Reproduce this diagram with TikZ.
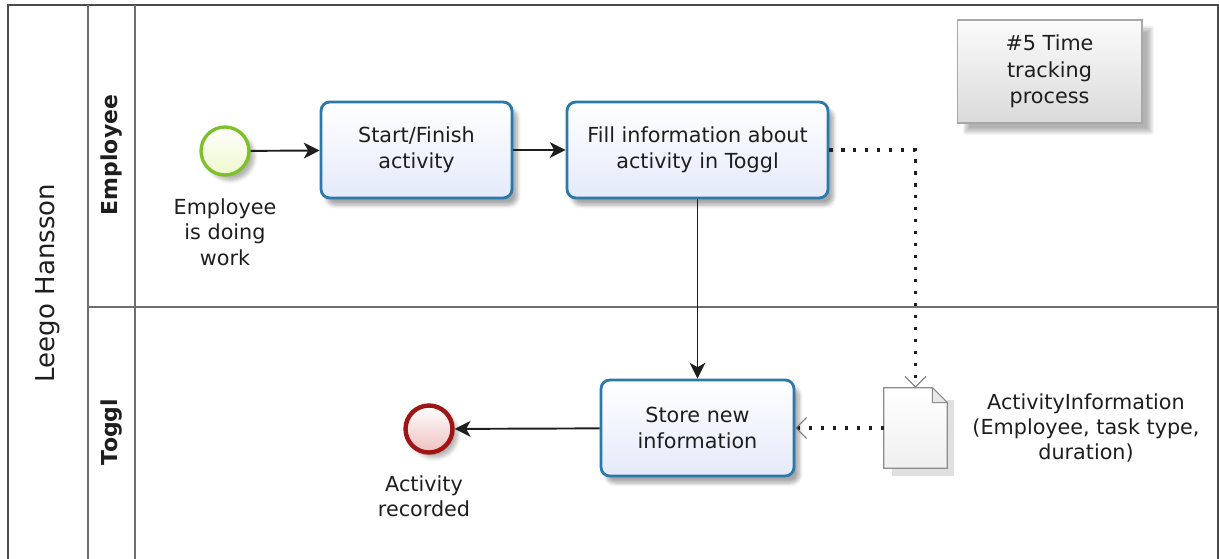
\documentclass[tikz,border=0pt]{standalone}
\usepackage{fontspec}
\setmainfont{DejaVu Sans}
\usetikzlibrary{calc,arrows.meta,shadows.blur}
\definecolor{ink}{HTML}{1E1E1E}
\definecolor{poolline}{HTML}{6E6E6E}
\definecolor{taskline}{HTML}{2C78A8}
\definecolor{taskfill}{HTML}{E4EAFA}
\definecolor{startline}{HTML}{7CC12A}
\definecolor{startfill}{HTML}{EEF8CC}
\definecolor{endline}{HTML}{A01414}
\definecolor{endfill}{HTML}{F0C0C0}
\definecolor{noteline}{HTML}{A8A8A8}
\definecolor{notefill}{HTML}{DADADA}
\definecolor{docline}{HTML}{8C8C8C}
\definecolor{barb}{HTML}{7A7A7A}
\newcommand{\txt}{\fontsize{11.8}{15}\selectfont}
\tikzset{
  pool/.style={draw=poolline, line width=0.8pt},
  poolouter/.style={draw=ink!80, line width=0.9pt},
  poollab/.style={rotate=90, text=ink, font=\fontsize{14.8}{17}\selectfont},
  lanelab/.style={rotate=90, text=ink, font=\fontsize{12.5}{15}\selectfont\bfseries},
  task/.style={draw=taskline, line width=1.6pt, rounded corners=5pt, minimum height=1.92cm,
    top color=white, bottom color=taskfill, text=ink, align=center, font=\txt,
    blur shadow={shadow xshift=3pt, shadow yshift=-4pt, shadow blur steps=6, shadow opacity=35}},
  startev/.style={circle, draw=startline, line width=1.9pt, minimum size=0.96cm, inner sep=0pt,
    top color=white, bottom color=startfill,
    blur shadow={shadow xshift=3pt, shadow yshift=-3pt, shadow blur steps=5, shadow opacity=30}},
  endev/.style={circle, draw=endline, line width=2.5pt, minimum size=0.94cm, inner sep=0pt,
    top color=white, bottom color=endfill,
    blur shadow={shadow xshift=3pt, shadow yshift=-3pt, shadow blur steps=5, shadow opacity=30}},
  lab/.style={text=ink, align=center, font=\fontsize{11.8}{14.5}\selectfont},
  note/.style={draw=noteline, line width=0.6pt, minimum width=3.7cm, minimum height=2.06cm,
    top color=gray!3, bottom color=notefill, text=ink, align=center, font=\txt,
    blur shadow={shadow xshift=5pt, shadow yshift=-5pt, shadow blur steps=8, shadow opacity=30}},
  docnode/.style={minimum width=1.26cm, minimum height=1.6cm, inner sep=0pt},
  flow/.style={draw=ink, line width=1.1pt, -{Stealth[length=9pt,width=9pt,inset=2.5pt]}},
  assoc/.style={draw=ink, line width=1.8pt, dash pattern=on 1.8pt off 5pt,
    -{Straight Barb[length=6pt,width=12pt,line width=0.6pt,color=barb]}},
}
\begin{document}
\begin{tikzpicture}[x=0.02cm,y=-0.02cm]
  \useasboundingbox (0,0) rectangle (1219,558);

  \draw[poolouter] (8,562) |- (1218,5) -- (1218,562);
  \draw[pool] (88,5) -- (88,562);
  \draw[pool] (135,5) -- (135,562);
  \draw[pool] (88,307) -- (1218,307);
  \node[poollab] (pool) at (48,283) {Leego Hansson};
  \node[lanelab] (laneemp) at (112,155) {Employee};
  \node[lanelab] (lanetog) at (112,432) {Toggl};

  \node[startev] (start) at (225,151) {};
  \node[lab] (startlab) at (225,232) {Employee\\is doing\\work};
  \node[task, minimum width=3.82cm] (act) at (416.5,150) {Start/Finish\\activity};
  \node[task, minimum width=5.22cm] (fill) at (697.5,150) {Fill information about\\activity in Toggl};
  \node[task, minimum width=3.86cm] (store) at (697.5,428) {Store new\\information};
  \node[endev] (end) at (429,429) {};
  \node[lab] (endlab) at (424,496) {Activity\\recorded};

  \node[docnode] (doc) at (915.5,428) {};
  \fill[black, opacity=0.12] ($(doc.south west)+(8,0)$) rectangle ($(doc.south east)+(7,8)$);
  \fill[black, opacity=0.12] ($(doc.north east)+(0,12)$) rectangle ($(doc.south east)+(7,0)$);
  \draw[docline, line width=0.7pt, top color=white, bottom color=gray!12]
    (doc.south west) -- (doc.north west) -- ($(doc.north east)+(-15,0)$)
    -- ($(doc.north east)+(0,15)$) -- (doc.south east) -- cycle;
  \draw[docline, line width=0.5pt, fill=gray!18]
    ($(doc.north east)+(-15,0)$) -- ($(doc.north east)+(-15,15)$) -- ($(doc.north east)+(0,15)$) -- cycle;
  \node[lab] (doclab) at (1086,428) {ActivityInformation\\(Employee, task type,\\duration)};

  \node[note] (note) at (1049.5,71.5) {\#5 Time\\tracking\\process};

  \draw[flow] (start) -- (act);
  \draw[flow] (act) -- (fill);
  \draw[flow] (fill) -- (store);
  \draw[flow] (store) -- (end);
  \draw[assoc] (fill.east) -| (doc.north);
  \draw[assoc] (doc.west) -- (store.east);
\end{tikzpicture}
\end{document}
